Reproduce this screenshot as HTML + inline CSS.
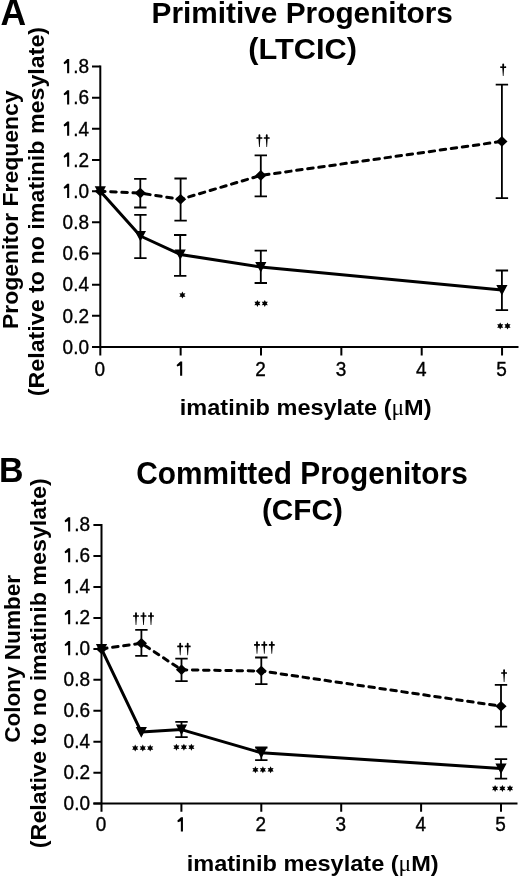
<!DOCTYPE html>
<html><head><meta charset="utf-8"><style>
html,body{margin:0;padding:0;background:#fff;}
svg{display:block;will-change:transform;}
</style></head><body>
<svg width="520" height="877" viewBox="0 0 520 877" font-family="&quot;Liberation Sans&quot;, sans-serif" fill="#000">
<rect width="520" height="877" fill="#fff"/>
<path d="M100.3 65.51V347M92 347H518.5" stroke="#000" stroke-width="2" fill="none"/>
<path d="M92 347H100.3M92 315.83H100.3M92 284.67H100.3M92 253.5H100.3M92 222.34H100.3M92 191.17H100.3M92 160H100.3M92 128.84H100.3M92 97.67H100.3M92 66.51H100.3M100.3 347V355.5M180.65 347V355.5M261 347V355.5M341.35 347V355.5M421.7 347V355.5M502.05 347V355.5" stroke="#000" stroke-width="2" fill="none"/>
<text transform="translate(89 353.8) scale(1 1.06)" text-anchor="end" font-size="19" stroke="#000" stroke-width="0.35">0.0</text>
<text transform="translate(89 322.63) scale(1 1.06)" text-anchor="end" font-size="19" stroke="#000" stroke-width="0.35">0.2</text>
<text transform="translate(89 291.47) scale(1 1.06)" text-anchor="end" font-size="19" stroke="#000" stroke-width="0.35">0.4</text>
<text transform="translate(89 260.3) scale(1 1.06)" text-anchor="end" font-size="19" stroke="#000" stroke-width="0.35">0.6</text>
<text transform="translate(89 229.14) scale(1 1.06)" text-anchor="end" font-size="19" stroke="#000" stroke-width="0.35">0.8</text>
<text transform="translate(89 197.97) scale(1 1.06)" text-anchor="end" font-size="19" stroke="#000" stroke-width="0.35">.0</text>
<text transform="translate(89 166.8) scale(1 1.06)" text-anchor="end" font-size="19" stroke="#000" stroke-width="0.35">.2</text>
<text transform="translate(89 135.64) scale(1 1.06)" text-anchor="end" font-size="19" stroke="#000" stroke-width="0.35">.4</text>
<text transform="translate(89 104.47) scale(1 1.06)" text-anchor="end" font-size="19" stroke="#000" stroke-width="0.35">.6</text>
<text transform="translate(89 73.31) scale(1 1.06)" text-anchor="end" font-size="19" stroke="#000" stroke-width="0.35">.8</text>
<text transform="translate(99.9 375.7) scale(1 1.06)" text-anchor="middle" font-size="19" stroke="#000" stroke-width="0.35">0</text>
<text transform="translate(260.6 375.7) scale(1 1.06)" text-anchor="middle" font-size="19" stroke="#000" stroke-width="0.35">2</text>
<text transform="translate(340.95 375.7) scale(1 1.06)" text-anchor="middle" font-size="19" stroke="#000" stroke-width="0.35">3</text>
<text transform="translate(421.3 375.7) scale(1 1.06)" text-anchor="middle" font-size="19" stroke="#000" stroke-width="0.35">4</text>
<text transform="translate(501.65 375.7) scale(1 1.06)" text-anchor="middle" font-size="19" stroke="#000" stroke-width="0.35">5</text>
<path d="M69.2 183.77V197.97H67.1V187.77L64.05 188.87L63.65 187.17L67.25 183.77ZM69.2 152.6V166.8H67.1V156.6L64.05 157.7L63.65 156L67.25 152.6ZM69.2 121.44V135.64H67.1V125.44L64.05 126.54L63.65 124.84L67.25 121.44ZM69.2 90.27V104.47H67.1V94.27L64.05 95.37L63.65 93.67L67.25 90.27ZM69.2 59.11V73.31H67.1V63.11L64.05 64.21L63.65 62.51L67.25 59.11ZM182.2 361.5V375.7H180.1V365.5L177.05 366.6L176.65 364.9L180.25 361.5Z" fill="#000"/>
<path d="M140.3 178.9V207.5M134.1 178.9H146.5M134.1 207.5H146.5M180.6 178.5V220.7M174.4 178.5H186.8M174.4 220.7H186.8M260.8 155.3V196.4M254.6 155.3H267M254.6 196.4H267M501.9 84.7V198.1M495.7 84.7H508.1M495.7 198.1H508.1M140.4 214.9V258.1M134.2 214.9H146.6M134.2 258.1H146.6M180.2 235V275.9M174 235H186.4M174 275.9H186.4M260.8 250.7V283M254.6 250.7H267M254.6 283H267M501.9 270.5V310.1M495.7 270.5H508.1M495.7 310.1H508.1" stroke="#000" stroke-width="1.8" fill="none"/>
<polyline points="100.3,191.2 140.4,236 180.2,254.4 260.8,267 501.9,290" stroke="#000" stroke-width="3" fill="none" stroke-linejoin="round"/>
<line x1="100.3" y1="191.2" x2="140.3" y2="193.1" stroke="#000" stroke-width="3" stroke-dasharray="5.55 5.6" stroke-linecap="round" stroke-dashoffset="0.75"/>
<line x1="140.3" y1="193.1" x2="180.6" y2="199.3" stroke="#000" stroke-width="3" stroke-dasharray="5.55 5.6" stroke-linecap="round" stroke-dashoffset="6.7"/>
<line x1="180.6" y1="199.3" x2="260.8" y2="175.4" stroke="#000" stroke-width="3" stroke-dasharray="5.55 5.6" stroke-linecap="round" stroke-dashoffset="2.65"/>
<line x1="260.8" y1="175.4" x2="501.9" y2="141.4" stroke="#000" stroke-width="3" stroke-dasharray="5.55 5.6" stroke-linecap="round" stroke-dashoffset="8.4"/>
<path d="M100.3 185.9L105.9 191.2L100.3 196.5L94.7 191.2ZM140.3 187.8L145.9 193.1L140.3 198.4L134.7 193.1ZM180.6 194L186.2 199.3L180.6 204.6L175 199.3ZM260.8 170.1L266.4 175.4L260.8 180.7L255.2 175.4ZM501.9 136.1L507.5 141.4L501.9 146.7L496.3 141.4ZM94.7 186.2H105.9L100.3 196.8ZM134.8 231H146L140.4 241.6ZM174.6 249.4H185.8L180.2 260ZM255.2 262H266.4L260.8 272.6ZM496.3 285H507.5L501.9 295.6Z" fill="#000"/>
<path d="M182.4 291.6L183.35 293.45L185.43 293.35L184.3 295.1L185.43 296.85L183.35 296.75L182.4 298.6L181.45 296.75L179.37 296.85L180.5 295.1L179.37 293.35L181.45 293.45ZM257.4 299.9L258.35 301.75L260.43 301.65L259.3 303.4L260.43 305.15L258.35 305.05L257.4 306.9L256.45 305.05L254.37 305.15L255.5 303.4L254.37 301.65L256.45 301.75ZM264.8 299.9L265.75 301.75L267.83 301.65L266.7 303.4L267.83 305.15L265.75 305.05L264.8 306.9L263.85 305.05L261.77 305.15L262.9 303.4L261.77 301.65L263.85 301.75ZM500.2 322.5L501.15 324.35L503.23 324.25L502.1 326L503.23 327.75L501.15 327.65L500.2 329.5L499.25 327.65L497.17 327.75L498.3 326L497.17 324.25L499.25 324.35ZM507.5 322.5L508.45 324.35L510.53 324.25L509.4 326L510.53 327.75L508.45 327.65L507.5 329.5L506.55 327.65L504.47 327.75L505.6 326L504.47 324.25L506.55 324.35ZM258.45 135.4A0.95 1.1 0 0 1 260.35 135.4L260.3 137.2L262 137.15A0.4 0.85 0 0 1 262 138.85L260.3 138.8L259.75 146.9H259.05L258.5 138.8L256.8 138.85A0.4 0.85 0 0 1 256.8 137.15L258.5 137.2ZM265.8 135.4A0.95 1.1 0 0 1 267.7 135.4L267.65 137.2L269.35 137.15A0.4 0.85 0 0 1 269.35 138.85L267.65 138.8L267.1 146.9H266.4L265.85 138.8L264.15 138.85A0.4 0.85 0 0 1 264.15 137.15L265.85 137.2ZM502.25 64.6A0.95 1.1 0 0 1 504.15 64.6L504.1 66.4L505.8 66.35A0.4 0.85 0 0 1 505.8 68.05L504.1 68L503.55 76.1H502.85L502.3 68L500.6 68.05A0.4 0.85 0 0 1 500.6 66.35L502.3 66.4Z" fill="#000"/>
<text transform="translate(0.45 25.40) scale(1.0441 1.0599)" font-size="34" font-weight="bold" text-anchor="start">A</text>
<text transform="translate(302.23 23.10) scale(1.0006 0.9802)" font-size="29.8" font-weight="bold" text-anchor="middle">Primitive Progenitors</text>
<text transform="translate(302.58 58.80) scale(1.0318 0.9666)" font-size="29.8" font-weight="bold" text-anchor="middle">(LTCIC)</text>
<text transform="translate(305.67 414.60) scale(1.0142 0.9600)" font-size="23.2" font-weight="bold" text-anchor="middle">imatinib mesylate (<tspan font-family="&quot;Liberation Serif&quot;, serif" font-weight="normal">μ</tspan>M)</text>
<text transform="translate(17.70 209.70) rotate(-90) scale(0.9987 0.9600)" font-size="23" font-weight="bold" text-anchor="middle">Progenitor Frequency</text>
<text transform="translate(43.70 211.56) rotate(-90) scale(1.0112 0.9600)" font-size="23" font-weight="bold" text-anchor="middle">(Relative to no imatinib mesylate)</text>
<path d="M101.5 524.1V803.6M93.4 803.6H517.5" stroke="#000" stroke-width="2" fill="none"/>
<path d="M93.4 803.6H101.5M93.4 772.66H101.5M93.4 741.71H101.5M93.4 710.77H101.5M93.4 679.82H101.5M93.4 648.88H101.5M93.4 617.94H101.5M93.4 586.99H101.5M93.4 556.05H101.5M93.4 525.1H101.5M101.5 803.6V811.7M181.4 803.6V811.7M261.3 803.6V811.7M341.2 803.6V811.7M421.1 803.6V811.7M501 803.6V811.7" stroke="#000" stroke-width="2" fill="none"/>
<text transform="translate(90 809.9) scale(1 1.06)" text-anchor="end" font-size="19" stroke="#000" stroke-width="0.35">0.0</text>
<text transform="translate(90 778.96) scale(1 1.06)" text-anchor="end" font-size="19" stroke="#000" stroke-width="0.35">0.2</text>
<text transform="translate(90 748.01) scale(1 1.06)" text-anchor="end" font-size="19" stroke="#000" stroke-width="0.35">0.4</text>
<text transform="translate(90 717.07) scale(1 1.06)" text-anchor="end" font-size="19" stroke="#000" stroke-width="0.35">0.6</text>
<text transform="translate(90 686.12) scale(1 1.06)" text-anchor="end" font-size="19" stroke="#000" stroke-width="0.35">0.8</text>
<text transform="translate(90 655.18) scale(1 1.06)" text-anchor="end" font-size="19" stroke="#000" stroke-width="0.35">.0</text>
<text transform="translate(90 624.24) scale(1 1.06)" text-anchor="end" font-size="19" stroke="#000" stroke-width="0.35">.2</text>
<text transform="translate(90 593.29) scale(1 1.06)" text-anchor="end" font-size="19" stroke="#000" stroke-width="0.35">.4</text>
<text transform="translate(90 562.35) scale(1 1.06)" text-anchor="end" font-size="19" stroke="#000" stroke-width="0.35">.6</text>
<text transform="translate(90 531.4) scale(1 1.06)" text-anchor="end" font-size="19" stroke="#000" stroke-width="0.35">.8</text>
<text transform="translate(101.1 831.4) scale(1 1.06)" text-anchor="middle" font-size="19" stroke="#000" stroke-width="0.35">0</text>
<text transform="translate(260.9 831.4) scale(1 1.06)" text-anchor="middle" font-size="19" stroke="#000" stroke-width="0.35">2</text>
<text transform="translate(340.8 831.4) scale(1 1.06)" text-anchor="middle" font-size="19" stroke="#000" stroke-width="0.35">3</text>
<text transform="translate(420.7 831.4) scale(1 1.06)" text-anchor="middle" font-size="19" stroke="#000" stroke-width="0.35">4</text>
<text transform="translate(500.6 831.4) scale(1 1.06)" text-anchor="middle" font-size="19" stroke="#000" stroke-width="0.35">5</text>
<path d="M70.2 640.98V655.18H68.1V644.98L65.05 646.08L64.65 644.38L68.25 640.98ZM70.2 610.04V624.24H68.1V614.04L65.05 615.14L64.65 613.44L68.25 610.04ZM70.2 579.09V593.29H68.1V583.09L65.05 584.19L64.65 582.49L68.25 579.09ZM70.2 548.15V562.35H68.1V552.15L65.05 553.25L64.65 551.55L68.25 548.15ZM70.2 517.2V531.4H68.1V521.2L65.05 522.3L64.65 520.6L68.25 517.2ZM182.95 817.2V831.4H180.85V821.2L177.8 822.3L177.4 820.6L181 817.2Z" fill="#000"/>
<path d="M141.4 629.8V655.8M135.2 629.8H147.6M135.2 655.8H147.6M181.5 658.7V681.1M175.3 658.7H187.7M175.3 681.1H187.7M261.3 657.5V684.2M255.1 657.5H267.5M255.1 684.2H267.5M501 684.9V726.7M494.8 684.9H507.2M494.8 726.7H507.2M181.5 721.9V737.1M175.3 721.9H187.7M175.3 737.1H187.7M261.3 747.5V760.2M255.1 747.5H267.5M255.1 760.2H267.5M501 759.1V778.6M494.8 759.1H507.2M494.8 778.6H507.2" stroke="#000" stroke-width="1.8" fill="none"/>
<polyline points="101.5,648.9 141.3,732.1 181.5,729.6 261.3,752.8 501,768.4" stroke="#000" stroke-width="3" fill="none" stroke-linejoin="round"/>
<line x1="101.5" y1="648.9" x2="141.4" y2="643.2" stroke="#000" stroke-width="3" stroke-dasharray="5.55 5.6" stroke-linecap="round" stroke-dashoffset="11.1"/>
<line x1="141.4" y1="643.2" x2="181.5" y2="669.8" stroke="#000" stroke-width="3" stroke-dasharray="5.55 5.6" stroke-linecap="round" stroke-dashoffset="7.0"/>
<line x1="181.5" y1="669.8" x2="261.3" y2="671" stroke="#000" stroke-width="3" stroke-dasharray="5.55 5.6" stroke-linecap="round" stroke-dashoffset="0.25"/>
<line x1="261.3" y1="671" x2="501" y2="706.2" stroke="#000" stroke-width="3" stroke-dasharray="5.55 5.54" stroke-linecap="round" stroke-dashoffset="2.15"/>
<path d="M101.5 643.6L107.1 648.9L101.5 654.2L95.9 648.9ZM141.4 637.9L147 643.2L141.4 648.5L135.8 643.2ZM181.5 664.5L187.1 669.8L181.5 675.1L175.9 669.8ZM261.3 665.7L266.9 671L261.3 676.3L255.7 671ZM501 700.9L506.6 706.2L501 711.5L495.4 706.2ZM95.9 643.9H107.1L101.5 654.5ZM135.7 727.1H146.9L141.3 737.7ZM175.9 724.6H187.1L181.5 735.2ZM255.7 747.8H266.9L261.3 758.4ZM495.4 763.4H506.6L501 774Z" fill="#000"/>
<path d="M135.05 613.4A0.95 1.1 0 0 1 136.95 613.4L136.9 615.2L138.6 615.15A0.4 0.85 0 0 1 138.6 616.85L136.9 616.8L136.35 624.9H135.65L135.1 616.8L133.4 616.85A0.4 0.85 0 0 1 133.4 615.15L135.1 615.2ZM142.55 613.4A0.95 1.1 0 0 1 144.45 613.4L144.4 615.2L146.1 615.15A0.4 0.85 0 0 1 146.1 616.85L144.4 616.8L143.85 624.9H143.15L142.6 616.8L140.9 616.85A0.4 0.85 0 0 1 140.9 615.15L142.6 615.2ZM150.05 613.4A0.95 1.1 0 0 1 151.95 613.4L151.9 615.2L153.6 615.15A0.4 0.85 0 0 1 153.6 616.85L151.9 616.8L151.35 624.9H150.65L150.1 616.8L148.4 616.85A0.4 0.85 0 0 1 148.4 615.15L150.1 615.2ZM179.25 643.8A0.95 1.1 0 0 1 181.15 643.8L181.1 645.6L182.8 645.55A0.4 0.85 0 0 1 182.8 647.25L181.1 647.2L180.55 655.3H179.85L179.3 647.2L177.6 647.25A0.4 0.85 0 0 1 177.6 645.55L179.3 645.6ZM186.75 643.8A0.95 1.1 0 0 1 188.65 643.8L188.6 645.6L190.3 645.55A0.4 0.85 0 0 1 190.3 647.25L188.6 647.2L188.05 655.3H187.35L186.8 647.2L185.1 647.25A0.4 0.85 0 0 1 185.1 645.55L186.8 645.6ZM256.05 642.3A0.95 1.1 0 0 1 257.95 642.3L257.9 644.1L259.6 644.05A0.4 0.85 0 0 1 259.6 645.75L257.9 645.7L257.35 653.8H256.65L256.1 645.7L254.4 645.75A0.4 0.85 0 0 1 254.4 644.05L256.1 644.1ZM263.35 642.3A0.95 1.1 0 0 1 265.25 642.3L265.2 644.1L266.9 644.05A0.4 0.85 0 0 1 266.9 645.75L265.2 645.7L264.65 653.8H263.95L263.4 645.7L261.7 645.75A0.4 0.85 0 0 1 261.7 644.05L263.4 644.1ZM270.85 642.3A0.95 1.1 0 0 1 272.75 642.3L272.7 644.1L274.4 644.05A0.4 0.85 0 0 1 274.4 645.75L272.7 645.7L272.15 653.8H271.45L270.9 645.7L269.2 645.75A0.4 0.85 0 0 1 269.2 644.05L270.9 644.1ZM503.15 670.4A0.95 1.1 0 0 1 505.05 670.4L505 672.2L506.7 672.15A0.4 0.85 0 0 1 506.7 673.85L505 673.8L504.45 681.9H503.75L503.2 673.8L501.5 673.85A0.4 0.85 0 0 1 501.5 672.15L503.2 672.2ZM135.2 744.6L136.15 746.45L138.23 746.35L137.1 748.1L138.23 749.85L136.15 749.75L135.2 751.6L134.25 749.75L132.17 749.85L133.3 748.1L132.17 746.35L134.25 746.45ZM142.8 744.6L143.75 746.45L145.83 746.35L144.7 748.1L145.83 749.85L143.75 749.75L142.8 751.6L141.85 749.75L139.77 749.85L140.9 748.1L139.77 746.35L141.85 746.45ZM150.2 744.6L151.15 746.45L153.23 746.35L152.1 748.1L153.23 749.85L151.15 749.75L150.2 751.6L149.25 749.75L147.17 749.85L148.3 748.1L147.17 746.35L149.25 746.45ZM176.4 743.7L177.35 745.55L179.43 745.45L178.3 747.2L179.43 748.95L177.35 748.85L176.4 750.7L175.45 748.85L173.37 748.95L174.5 747.2L173.37 745.45L175.45 745.55ZM183.9 743.7L184.85 745.55L186.93 745.45L185.8 747.2L186.93 748.95L184.85 748.85L183.9 750.7L182.95 748.85L180.87 748.95L182 747.2L180.87 745.45L182.95 745.55ZM191.4 743.7L192.35 745.55L194.43 745.45L193.3 747.2L194.43 748.95L192.35 748.85L191.4 750.7L190.45 748.85L188.37 748.95L189.5 747.2L188.37 745.45L190.45 745.55ZM255.4 766.3L256.35 768.15L258.43 768.05L257.3 769.8L258.43 771.55L256.35 771.45L255.4 773.3L254.45 771.45L252.37 771.55L253.5 769.8L252.37 768.05L254.45 768.15ZM262.9 766.3L263.85 768.15L265.93 768.05L264.8 769.8L265.93 771.55L263.85 771.45L262.9 773.3L261.95 771.45L259.87 771.55L261 769.8L259.87 768.05L261.95 768.15ZM270.6 766.3L271.55 768.15L273.63 768.05L272.5 769.8L273.63 771.55L271.55 771.45L270.6 773.3L269.65 771.45L267.57 771.55L268.7 769.8L267.57 768.05L269.65 768.15ZM495.1 784.9L496.05 786.75L498.13 786.65L497 788.4L498.13 790.15L496.05 790.05L495.1 791.9L494.15 790.05L492.07 790.15L493.2 788.4L492.07 786.65L494.15 786.75ZM502.4 784.9L503.35 786.75L505.43 786.65L504.3 788.4L505.43 790.15L503.35 790.05L502.4 791.9L501.45 790.05L499.37 790.15L500.5 788.4L499.37 786.65L501.45 786.75ZM510 784.9L510.95 786.75L513.03 786.65L511.9 788.4L513.03 790.15L510.95 790.05L510 791.9L509.05 790.05L506.97 790.15L508.1 788.4L506.97 786.65L509.05 786.75Z" fill="#000"/>
<text transform="translate(-1.00 481.90) scale(0.9975 1.0263)" font-size="34" font-weight="bold" text-anchor="start">B</text>
<text transform="translate(302.02 484.00) scale(1.0010 1.0632)" font-size="29.8" font-weight="bold" text-anchor="middle">Committed Progenitors</text>
<text transform="translate(302.39 520.30) scale(0.9983 1.0096)" font-size="29.8" font-weight="bold" text-anchor="middle">(CFC)</text>
<text transform="translate(312.68 870.60) scale(1.0158 0.9600)" font-size="23.2" font-weight="bold" text-anchor="middle">imatinib mesylate (<tspan font-family="&quot;Liberation Serif&quot;, serif" font-weight="normal">μ</tspan>M)</text>
<text transform="translate(19.60 658.89) rotate(-90) scale(0.9807 0.9500)" font-size="23" font-weight="bold" text-anchor="middle">Colony Number</text>
<text transform="translate(45.50 663.25) rotate(-90) scale(1.0121 0.9800)" font-size="23" font-weight="bold" text-anchor="middle">(Relative to no imatinib mesylate)</text>
</svg>
</body></html>
